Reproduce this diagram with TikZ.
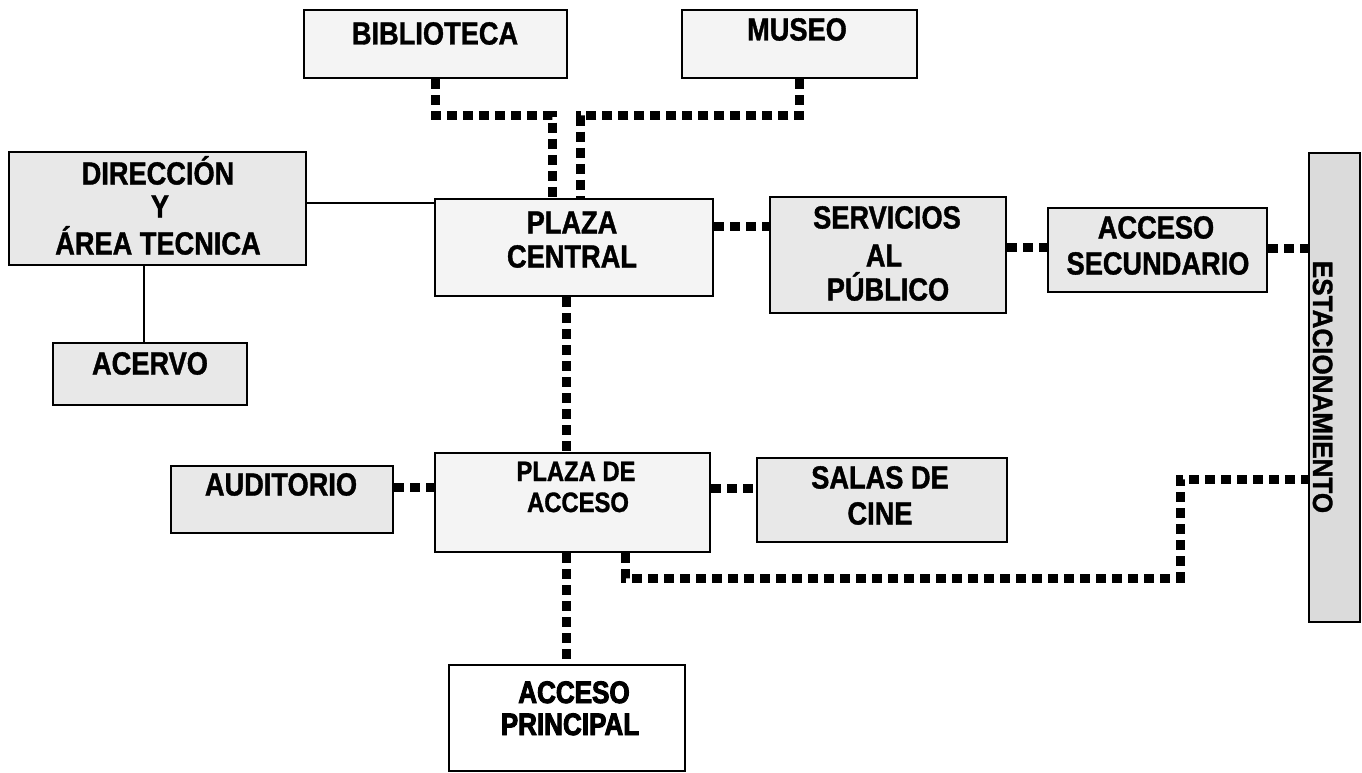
\documentclass[tikz,border=0pt]{standalone}
\usepackage{fontspec}
\setmainfont{Liberation Sans}
\newfontfamily\bx[FakeStretch=0.85,BoldFeatures={FakeBold=1.2}]{Liberation Sans}
\newfontfamily\hv[FakeStretch=0.84,BoldFeatures={FakeBold=3}]{Liberation Sans}
\newfontfamily\vx[FakeStretch=0.93,BoldFeatures={FakeBold=1.2}]{Liberation Sans}
\usetikzlibrary{calc}
\begin{document}
\begin{tikzpicture}[x=1pt,y=-1pt,
  boxL/.style={draw, line width=2.5pt, fill=gray!9, inner sep=0pt},
  boxM/.style={draw, line width=2.5pt, fill=gray!18, inner sep=0pt},
  boxD/.style={draw, line width=2.5pt, fill=gray!28, inner sep=0pt},
  boxW/.style={draw, line width=2.5pt, fill=white, inner sep=0pt},
  dots/.style={line width=9pt, dash pattern=on 10pt off 6pt},
  thinline/.style={line width=1.8pt},
  lab/.style={inner sep=0pt, text height=23pt, text depth=0pt, font=\bx\bfseries\fontsize{32}{38}\selectfont},
  labS/.style={inner sep=0pt, text height=20pt, text depth=0pt, font=\bx\bfseries\fontsize{28}{34}\selectfont},
  labH/.style={inner sep=0pt, text height=22pt, text depth=0pt, font=\hv\bfseries\fontsize{31}{36}\selectfont},
  labV/.style={inner sep=0pt, text height=20pt, text depth=0pt, rotate=-90, font=\vx\bfseries\fontsize{28}{32}\selectfont}
]
\useasboundingbox (0,0) rectangle (1362,773);
\fill[white] (0,0) rectangle (1362,773);

% boxes
\node[boxL, minimum width=263pt, minimum height=68pt] (bib) at (435.5,44) {};
\node[boxL, minimum width=235pt, minimum height=68pt] (mus) at (799.5,44) {};
\node[boxM, minimum width=297pt, minimum height=113pt] (dir) at (157.5,208.5) {};
\node[boxL, minimum width=278pt, minimum height=97pt] (pc) at (574,247.5) {};
\node[boxM, minimum width=236pt, minimum height=116pt] (serv) at (888,255) {};
\node[boxM, minimum width=219pt, minimum height=84pt] (asec) at (1157.5,250) {};
\node[boxD, minimum width=51pt, minimum height=469pt] (est) at (1334.5,387.5) {};
\node[boxM, minimum width=194pt, minimum height=62pt] (acer) at (150,374) {};
\node[boxM, minimum width=222pt, minimum height=67pt] (aud) at (282,499.5) {};
\node[boxL, minimum width=275pt, minimum height=99pt] (pa) at (572.5,502.5) {};
\node[boxM, minimum width=250pt, minimum height=84pt] (salas) at (882,500) {};
\node[boxW, minimum width=236pt, minimum height=106pt] (ap) at (567,718) {};

% labels
\node[lab] (tbib) at (435,33) {BIBLIOTECA};
\node[lab] (tmus) at (797,29) {MUSEO};
\node[lab] (tdir1) at (158,173) {DIRECCIÓN};
\node[lab] (tdir2) at (160,206) {Y};
\node[lab] (tdir3) at (158,243) {ÁREA TECNICA};
\node[lab] (tpc1) at (572,222) {PLAZA};
\node[lab] (tpc2) at (572,256) {CENTRAL};
\node[lab] (tsv1) at (887,217) {SERVICIOS};
\node[lab] (tsv2) at (884,255) {AL};
\node[lab] (tsv3) at (888,289) {PÚBLICO};
\node[lab] (tas1) at (1156,227) {ACCESO};
\node[lab] (tas2) at (1158,263) {SECUNDARIO};
\node[lab] (tac) at (150,363) {ACERVO};
\node[lab] (tau) at (281,484) {AUDITORIO};
\node[labS] (tpa1) at (576,471) {PLAZA DE};
\node[labS] (tpa2) at (578,502) {ACCESO};
\node[lab] (tsa1) at (880,477) {SALAS DE};
\node[lab] (tsa2) at (880,513) {CINE};
\node[labH] (tap1) at (574,692) {ACCESO};
\node[labH] (tap2) at (570,724) {PRINCIPAL};
\node[labV] (tes) at (1323,387) {ESTACIONAMIENTO};

% junction coordinates
\coordinate (hy) at (0,116);
\coordinate (low) at (1180,578);
\coordinate (high) at (1180,479);

% dotted connectors
\draw[dots] (bib.south) -- (bib.south |- hy) -| ($(pc.north)+(-22,0)$);
\draw[dots] (mus.south) -- (mus.south |- hy) -| ($(pc.north)+(6,0)$);
\draw[dots] ($(pc.east)+(0,-21.5)$) coordinate (c1) -- (c1 -| serv.west);
\draw[dots] ($(serv.east)+(0,-8)$) coordinate (c2) -- (c2 -| asec.west);
\draw[dots] ($(asec.east)+(0,-2)$) coordinate (c3) -- (c3 -| est.west);
\draw[dots] ($(pc.south)+(-8,0)$) coordinate (c4) -- (c4 |- pa.north);
\draw[dots] ($(aud.east)+(0,-12.5)$) coordinate (c5) -- (c5 -| pa.west);
\draw[dots] ($(pa.east)+(0,-14.5)$) coordinate (c6) -- (c6 -| salas.west);
\draw[dots] ($(pa.south)+(-6.5,0)$) coordinate (c7) -- (c7 |- ap.north);
\draw[dots] ($(pa.south)+(52.5,0)$) coordinate (c8) |- (low) -- (high) -- (high -| est.west);

% solid connectors
\draw[thinline] ($(dir.east)+(0,-5.5)$) coordinate (c9) -- (c9 -| pc.west);
\draw[thinline] ($(dir.south)+(-13.5,0)$) coordinate (c10) -- (c10 |- acer.north);
\end{tikzpicture}
\end{document}
